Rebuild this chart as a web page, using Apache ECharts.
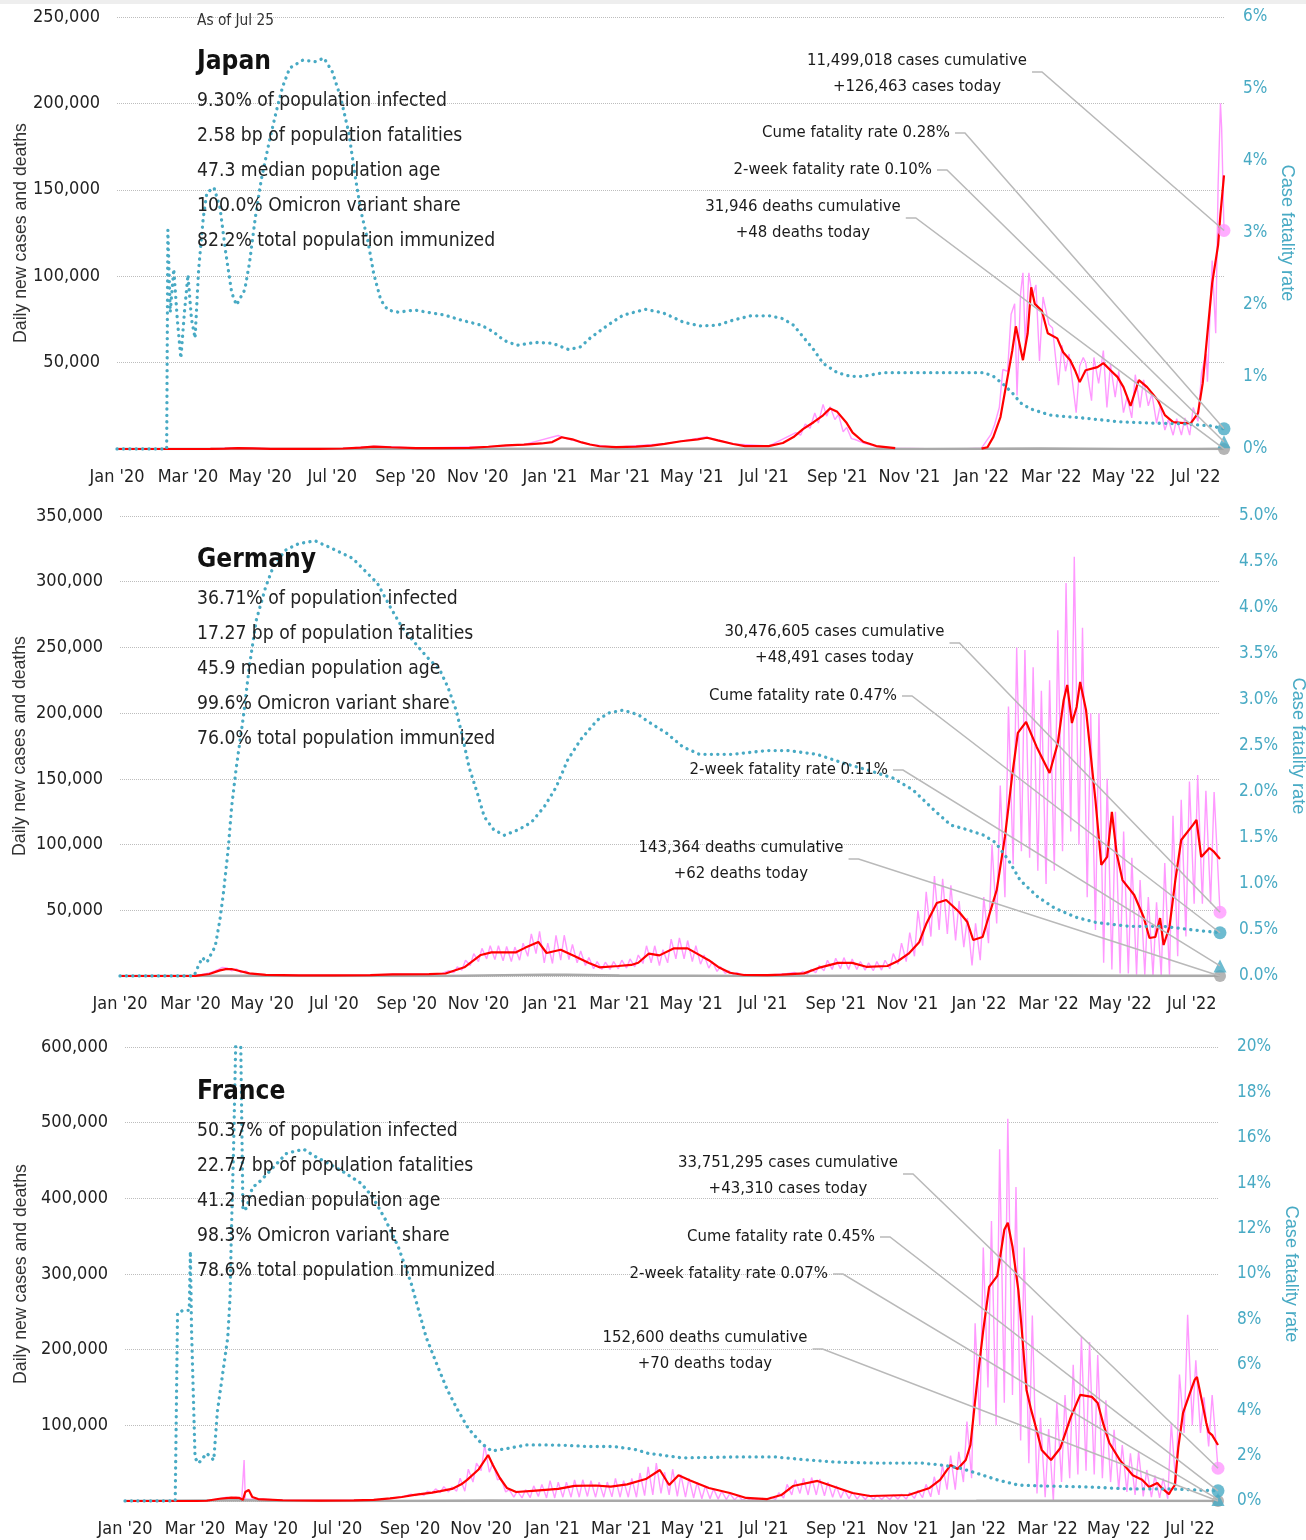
<!DOCTYPE html>
<html><head><meta charset="utf-8">
<script src="https://cdn.jsdelivr.net/npm/echarts@6/dist/echarts.min.js"></script>
<style>html,body{margin:0;padding:0;background:#fff}#c{width:1306px;height:1540px}</style>
</head><body><div id="c"></div><script>
// ---------------- DATA ----------------
const asOfDate = "2022-07-25";
const tickDates = ["2020-01-01","2020-03-01","2020-05-01","2020-07-01","2020-09-01","2020-11-01","2021-01-01","2021-03-01","2021-05-01","2021-07-01","2021-09-01","2021-11-01","2022-01-01","2022-03-01","2022-05-01","2022-07-01"];
const monthNames = ["Jan","Feb","Mar","Apr","May","Jun","Jul","Aug","Sep","Oct","Nov","Dec"];

// Japan
const jpStats = ["9.30% of population infected","2.58 bp of population fatalities","47.3 median population age","100.0% Omicron variant share","82.2% total population immunized"];
const jpTotals = {cumCases:11499018, todayCases:126463, cumDeaths:31946, todayDeaths:48, cumeCfr:0.28, twoWeekCfr:0.10};
const jpLeftTicks = [0, 250000, 50000];
const jpRightTicks = [0, 6, 1];
const jpAvg = [["2020-01-01",0],["2020-02-15",10],["2020-03-20",40],["2020-04-01",250],["2020-04-12",560],["2020-04-25",400],["2020-05-10",120],["2020-05-25",30],["2020-06-20",60],["2020-07-10",300],["2020-07-25",800],["2020-08-05",1350],["2020-08-20",1000],["2020-09-10",550],["2020-10-01",500],["2020-10-25",650],["2020-11-10",1300],["2020-11-25",2100],["2020-12-10",2500],["2020-12-25",3200],["2021-01-03",4000],["2021-01-11",6800],["2021-01-20",5600],["2021-01-28",3800],["2021-02-04",2600],["2021-02-12",1600],["2021-02-26",1100],["2021-03-15",1400],["2021-03-28",2000],["2021-04-08",3000],["2021-04-22",4500],["2021-05-06",5600],["2021-05-14",6500],["2021-05-23",5000],["2021-06-05",2900],["2021-06-15",1700],["2021-07-05",1700],["2021-07-17",3500],["2021-07-26",6900],["2021-08-03",11500],["2021-08-12",15500],["2021-08-20",19500],["2021-08-26",23500],["2021-09-01",21500],["2021-09-09",15000],["2021-09-14",9500],["2021-09-23",4200],["2021-10-04",1700],["2021-10-20",500],["2021-10-21",null],["2022-01-01",200],["2022-01-06",1000],["2022-01-11",7000],["2022-01-17",18500],["2022-01-23",41600],["2022-01-27",57000],["2022-01-30",71000],["2022-02-05",51400],["2022-02-09",67000],["2022-02-12",93600],["2022-02-15",84000],["2022-02-21",80000],["2022-02-26",67000],["2022-03-06",64000],["2022-03-11",56000],["2022-03-17",51400],["2022-03-21",45600],["2022-03-25",38700],["2022-03-30",45600],["2022-04-09",47400],["2022-04-14",49700],["2022-04-20",45600],["2022-04-26",41600],["2022-05-01",35800],["2022-05-07",24900],["2022-05-14",39900],["2022-05-21",35800],["2022-05-30",28300],["2022-06-05",19600],["2022-06-12",15600],["2022-06-21",15000],["2022-06-27",15000],["2022-07-03",20800],["2022-07-07",38100],["2022-07-11",67000],["2022-07-15",96000],["2022-07-20",118000],["2022-07-22",136000],["2022-07-25",158400]];
const jpDaily = [["2020-01-01",0],["2020-03-20",40],["2020-04-11",700],["2020-05-10",120],["2020-07-10",300],["2020-08-07",1600],["2020-09-10",550],["2020-11-10",1300],["2020-12-10",2500],["2021-01-08",7800],["2021-01-15",6000],["2021-02-04",2600],["2021-02-26",1100],["2021-04-08",3000],["2021-05-13",7000],["2021-06-05",2900],["2021-07-05",1700],["2021-07-28",9500],["2021-08-01",8000],["2021-08-05",14500],["2021-08-09",12000],["2021-08-13",20800],["2021-08-16",15000],["2021-08-20",25800],["2021-08-23",19000],["2021-08-26",24500],["2021-08-30",17000],["2021-09-02",20000],["2021-09-06",10000],["2021-09-09",12500],["2021-09-13",6000],["2021-09-16",5500],["2021-09-23",3500],["2021-10-04",1500],["2021-10-20",400],["2021-11-15",150],["2021-12-20",200],["2022-01-01",500],["2022-01-05",4500],["2022-01-09",8500],["2022-01-12",14000],["2022-01-16",24000],["2022-01-19",46000],["2022-01-23",45000],["2022-01-26",78000],["2022-01-29",84000],["2022-01-31",31000],["2022-02-03",90000],["2022-02-05",102000],["2022-02-07",60000],["2022-02-10",102000],["2022-02-13",88000],["2022-02-16",95000],["2022-02-19",51000],["2022-02-22",88000],["2022-02-27",72000],["2022-03-02",70000],["2022-03-07",37000],["2022-03-10",60000],["2022-03-13",45000],["2022-03-16",55000],["2022-03-22",21000],["2022-03-25",48000],["2022-03-28",53000],["2022-03-30",50000],["2022-04-04",28000],["2022-04-06",53000],["2022-04-10",38000],["2022-04-14",57000],["2022-04-17",24000],["2022-04-20",49000],["2022-04-24",30000],["2022-04-27",45000],["2022-05-01",21000],["2022-05-04",30000],["2022-05-08",18000],["2022-05-11",43000],["2022-05-15",24000],["2022-05-18",40000],["2022-05-22",25000],["2022-05-25",32000],["2022-05-29",15000],["2022-06-01",25000],["2022-06-05",11000],["2022-06-08",17000],["2022-06-12",8000],["2022-06-15",17500],["2022-06-19",8000],["2022-06-22",18000],["2022-06-26",8000],["2022-06-29",24000],["2022-07-03",16000],["2022-07-06",44000],["2022-07-08",50000],["2022-07-10",55000],["2022-07-11",39000],["2022-07-15",109000],["2022-07-18",67000],["2022-07-20",152000],["2022-07-22",200000],["2022-07-23",186000],["2022-07-25",126463]];
const jpCfr = [["2020-01-01",0],["2020-02-12",0],["2020-02-13",3.04],["2020-02-15",1.9],["2020-02-18",2.5],["2020-02-21",1.8],["2020-02-24",1.26],["2020-02-27",1.9],["2020-03-01",2.42],["2020-03-04",1.8],["2020-03-07",1.54],["2020-03-10",2.49],["2020-03-14",3.22],["2020-03-17",3.56],["2020-03-23",3.63],["2020-03-28",3.36],["2020-04-02",2.72],["2020-04-07",2.17],["2020-04-11",2.0],["2020-04-18",2.21],["2020-04-22",2.58],["2020-04-27",3.22],["2020-05-02",3.74],["2020-05-09",4.29],["2020-05-15",4.71],["2020-05-20",5.03],["2020-05-26",5.29],["2020-06-06",5.40],["2020-06-17",5.38],["2020-06-24",5.43],["2020-07-01",5.24],["2020-07-08",4.89],["2020-07-15",4.39],["2020-07-20",3.83],["2020-07-25",3.32],["2020-07-31",2.90],["2020-08-05",2.44],["2020-08-11",2.07],["2020-08-17",1.93],["2020-08-26",1.90],["2020-09-09",1.93],["2020-09-19",1.90],["2020-10-04",1.86],["2020-10-18",1.79],["2020-11-04",1.72],["2020-11-14",1.63],["2020-11-23",1.51],["2020-12-04",1.44],["2020-12-20",1.48],["2021-01-03",1.47],["2021-01-17",1.38],["2021-01-27",1.42],["2021-02-04",1.54],["2021-02-19",1.72],["2021-03-04",1.86],["2021-03-23",1.94],["2021-04-07",1.89],["2021-04-24",1.76],["2021-05-08",1.71],["2021-05-23",1.72],["2021-06-05",1.79],["2021-06-20",1.85],["2021-07-06",1.85],["2021-07-17",1.81],["2021-07-26",1.72],["2021-08-03",1.56],["2021-08-12",1.38],["2021-08-20",1.19],["2021-09-01",1.06],["2021-09-12",1.01],["2021-09-23",1.01],["2021-10-10",1.06],["2021-11-08",1.06],["2021-12-06",1.06],["2022-01-03",1.06],["2022-01-11",1.01],["2022-01-20",0.89],["2022-01-27",0.78],["2022-02-03",0.64],["2022-02-11",0.56],["2022-02-28",0.47],["2022-03-28",0.43],["2022-04-26",0.38],["2022-05-24",0.36],["2022-06-21",0.35],["2022-07-14",0.32],["2022-07-25",0.28]];
const jpDeaths = [["2020-01-01",0],["2020-04-25",20],["2020-06-01",5],["2020-08-25",15],["2021-01-25",90],["2021-05-20",100],["2021-08-30",60],["2021-11-15",2],["2022-02-20",250],["2022-05-01",40],["2022-07-01",15],["2022-07-25",48]];

// Germany
const deStats = ["36.71% of population infected","17.27 bp of population fatalities","45.9 median population age","99.6% Omicron variant share","76.0% total population immunized"];
const deTotals = {cumCases:30476605, todayCases:48491, cumDeaths:143364, todayDeaths:62, cumeCfr:0.47, twoWeekCfr:0.11};
const deLeftTicks = [0, 350000, 50000];
const deRightTicks = [0, 5, 0.5];
const deAvg = [["2020-01-01",0],["2020-03-05",50],["2020-03-17",1500],["2020-03-26",4300],["2020-03-31",5200],["2020-04-05",5300],["2020-04-11",4000],["2020-04-20",2000],["2020-05-04",800],["2020-06-01",450],["2020-07-01",450],["2020-08-01",700],["2020-08-20",1300],["2020-09-20",1500],["2020-10-04",1900],["2020-10-20",6600],["2020-11-03",16000],["2020-11-12",18000],["2020-12-03",18000],["2020-12-11",21600],["2020-12-22",25900],["2020-12-29",17500],["2021-01-10",20000],["2021-01-22",15000],["2021-02-03",9900],["2021-02-12",6600],["2021-02-28",7600],["2021-03-11",8400],["2021-03-17",10100],["2021-03-26",17000],["2021-04-04",15700],["2021-04-16",21000],["2021-04-28",21000],["2021-05-06",17000],["2021-05-16",12000],["2021-05-24",6900],["2021-06-03",2500],["2021-06-15",750],["2021-07-05",600],["2021-07-17",1000],["2021-08-05",2000],["2021-08-19",6600],["2021-09-03",10000],["2021-09-15",10000],["2021-09-27",7000],["2021-10-15",7600],["2021-10-24",11400],["2021-11-02",17000],["2021-11-11",25600],["2021-11-17",39500],["2021-11-26",55500],["2021-12-04",57800],["2021-12-15",48700],["2021-12-22",41100],["2021-12-27",27400],["2022-01-04",29700],["2022-01-16",65400],["2022-01-23",105800],["2022-01-29",151400],["2022-02-03",185000],["2022-02-10",193300],["2022-02-19",174300],["2022-03-02",154500],["2022-03-09",177300],["2022-03-14",210000],["2022-03-17",221500],["2022-03-21",192500],["2022-03-25",204700],["2022-03-28",223700],["2022-04-02",202400],["2022-04-10",133900],["2022-04-15",84500],["2022-04-20",90600],["2022-04-24",124800],["2022-04-28",93600],["2022-05-03",73000],["2022-05-13",61600],["2022-05-21",44900],["2022-05-26",28900],["2022-05-31",29700],["2022-06-04",44100],["2022-06-07",23600],["2022-06-12",37300],["2022-06-17",73000],["2022-06-22",103500],["2022-07-02",115000],["2022-07-05",118700],["2022-07-09",90600],["2022-07-16",97400],["2022-07-20",94400],["2022-07-25",89000]];
const deDaily = [["2020-01-01",0],["2020-03-05",100],["2020-03-18",2500],["2020-03-25",5000],["2020-03-28",6500],["2020-04-01",6200],["2020-04-05",4000],["2020-04-09",5500],["2020-04-13",2500],["2020-04-17",3800],["2020-04-21",1500],["2020-05-04",900],["2020-06-01",450],["2020-07-01",450],["2020-08-01",700],["2020-08-20",1300],["2020-09-20",1500],["2020-10-01",2000],["2020-10-07",4000],["2020-10-11",2500],["2020-10-14",7000],["2020-10-18",4500],["2020-10-21",12000],["2020-10-25",8000],["2020-10-28",17000],["2020-11-01",11000],["2020-11-04",21000],["2020-11-08",13000],["2020-11-11",23000],["2020-11-15",12500],["2020-11-18",23000],["2020-11-22",11500],["2020-11-25",22500],["2020-11-29",11000],["2020-12-02",22000],["2020-12-06",12000],["2020-12-09",25000],["2020-12-13",15000],["2020-12-16",32000],["2020-12-20",17000],["2020-12-23",34000],["2020-12-27",10000],["2020-12-30",25000],["2021-01-03",9500],["2021-01-06",31000],["2021-01-10",12000],["2021-01-13",31000],["2021-01-17",12500],["2021-01-20",24000],["2021-01-24",10000],["2021-01-27",19000],["2021-01-31",8000],["2021-02-03",14000],["2021-02-07",5500],["2021-02-10",11000],["2021-02-14",5000],["2021-02-17",10500],["2021-02-21",5000],["2021-02-24",11000],["2021-02-28",5500],["2021-03-03",12000],["2021-03-07",6000],["2021-03-10",13000],["2021-03-14",7000],["2021-03-17",16000],["2021-03-21",9500],["2021-03-24",23000],["2021-03-28",10000],["2021-03-31",23000],["2021-04-04",8000],["2021-04-07",20000],["2021-04-11",10000],["2021-04-14",28000],["2021-04-18",13000],["2021-04-21",29000],["2021-04-25",13000],["2021-04-28",27000],["2021-05-02",11000],["2021-05-05",23000],["2021-05-09",9000],["2021-05-12",16000],["2021-05-16",6000],["2021-05-19",11000],["2021-05-23",3500],["2021-05-26",7000],["2021-05-30",2000],["2021-06-02",4000],["2021-06-06",1200],["2021-06-09",2500],["2021-06-13",600],["2021-06-16",1200],["2021-06-20",400],["2021-07-05",700],["2021-07-21",1800],["2021-07-28",2700],["2021-08-01",1200],["2021-08-04",3500],["2021-08-08",1500],["2021-08-11",5000],["2021-08-15",2500],["2021-08-18",8000],["2021-08-22",4000],["2021-08-25",12000],["2021-08-29",5000],["2021-09-01",13500],["2021-09-05",5500],["2021-09-08",14000],["2021-09-12",5000],["2021-09-15",13000],["2021-09-19",5000],["2021-09-22",11000],["2021-09-26",4500],["2021-09-29",10000],["2021-10-03",4000],["2021-10-06",11000],["2021-10-10",4500],["2021-10-13",12000],["2021-10-17",5500],["2021-10-20",17000],["2021-10-24",9000],["2021-10-27",25000],["2021-10-31",11000],["2021-11-03",33000],["2021-11-07",15000],["2021-11-10",50000],["2021-11-14",23000],["2021-11-17",64000],["2021-11-21",30000],["2021-11-24",76000],["2021-11-28",35000],["2021-12-01",74000],["2021-12-05",32000],["2021-12-08",69000],["2021-12-12",27000],["2021-12-15",57000],["2021-12-19",22000],["2021-12-22",44000],["2021-12-26",8000],["2021-12-29",40000],["2022-01-02",12000],["2022-01-05",60000],["2022-01-09",25000],["2022-01-12",100000],["2022-01-16",40000],["2022-01-19",145000],["2022-01-23",60000],["2022-01-26",205000],["2022-01-30",85000],["2022-02-02",250000],["2022-02-06",95000],["2022-02-09",248000],["2022-02-13",90000],["2022-02-16",235000],["2022-02-20",80000],["2022-02-23",217000],["2022-02-27",70000],["2022-03-02",225000],["2022-03-06",80000],["2022-03-09",263000],["2022-03-13",95000],["2022-03-16",299000],["2022-03-20",110000],["2022-03-23",319000],["2022-03-27",100000],["2022-03-30",265000],["2022-04-03",60000],["2022-04-06",200000],["2022-04-10",35000],["2022-04-13",200000],["2022-04-17",10000],["2022-04-20",150000],["2022-04-24",5000],["2022-04-27",125000],["2022-05-01",2000],["2022-05-04",110000],["2022-05-08",2000],["2022-05-11",90000],["2022-05-15",1000],["2022-05-18",73000],["2022-05-22",1000],["2022-05-25",60000],["2022-05-29",0],["2022-06-01",56000],["2022-06-05",0],["2022-06-08",86000],["2022-06-12",1000],["2022-06-15",122000],["2022-06-19",15000],["2022-06-22",134000],["2022-06-26",30000],["2022-06-29",148000],["2022-07-03",55000],["2022-07-06",153000],["2022-07-10",55000],["2022-07-13",141000],["2022-07-17",55000],["2022-07-20",140000],["2022-07-25",48491]];
const deCfr = [["2020-01-01",0],["2020-03-04",0],["2020-03-07",0.09],["2020-03-11",0.20],["2020-03-15",0.15],["2020-03-19",0.25],["2020-03-22",0.32],["2020-03-26",0.61],["2020-03-29",0.90],["2020-04-02",1.37],["2020-04-05",1.84],["2020-04-09",2.27],["2020-04-15",2.82],["2020-04-20",3.36],["2020-04-26",3.87],["2020-05-04",4.23],["2020-05-11",4.47],["2020-05-21",4.63],["2020-06-01",4.70],["2020-06-15",4.73],["2020-06-29",4.65],["2020-07-17",4.54],["2020-07-27",4.41],["2020-08-07",4.27],["2020-08-18",4.01],["2020-08-28",3.79],["2020-09-08",3.62],["2020-09-18",3.47],["2020-09-29",3.33],["2020-10-06",3.14],["2020-10-13",2.89],["2020-10-19",2.57],["2020-10-24",2.27],["2020-10-31",1.99],["2020-11-06",1.73],["2020-11-14",1.59],["2020-11-23",1.53],["2020-12-05",1.59],["2020-12-16",1.67],["2020-12-27",1.84],["2021-01-06",2.05],["2021-01-16",2.35],["2021-01-27",2.57],["2021-02-10",2.78],["2021-02-20",2.86],["2021-03-04",2.89],["2021-03-17",2.84],["2021-03-26",2.76],["2021-04-10",2.64],["2021-04-24",2.49],["2021-05-08",2.41],["2021-06-06",2.41],["2021-07-04",2.45],["2021-07-22",2.45],["2021-08-16",2.41],["2021-09-06",2.32],["2021-09-28",2.24],["2021-10-20",2.15],["2021-11-06",2.02],["2021-11-24",1.80],["2021-12-08",1.64],["2021-12-22",1.59],["2022-01-05",1.53],["2022-01-15",1.45],["2022-01-26",1.26],["2022-02-05",1.04],["2022-02-20",0.86],["2022-03-06",0.74],["2022-03-24",0.64],["2022-04-11",0.58],["2022-05-09",0.54],["2022-06-07",0.54],["2022-07-02",0.50],["2022-07-25",0.47]];
const deDeaths = [["2020-01-01",0],["2020-04-15",230],["2020-06-01",30],["2020-10-01",10],["2020-12-28",900],["2021-01-15",850],["2021-03-01",300],["2021-05-01",200],["2021-07-01",30],["2021-12-01",350],["2022-03-20",250],["2022-06-01",80],["2022-07-25",62]];

// France
const frStats = ["50.37% of population infected","22.77 bp of population fatalities","41.2 median population age","98.3% Omicron variant share","78.6% total population immunized"];
const frTotals = {cumCases:33751295, todayCases:43310, cumDeaths:152600, todayDeaths:70, cumeCfr:0.45, twoWeekCfr:0.07};
const frLeftTicks = [0, 600000, 100000];
const frRightTicks = [0, 20, 2];
const frAvg = [["2020-01-01",0],["2020-02-25",0],["2020-03-11",300],["2020-03-22",3000],["2020-04-01",4500],["2020-04-08",4000],["2020-04-11",1500],["2020-04-13",11900],["2020-04-16",14500],["2020-04-19",5300],["2020-04-24",2600],["2020-05-15",1000],["2020-06-15",600],["2020-07-15",800],["2020-08-01",1500],["2020-08-15",3500],["2020-08-25",5300],["2020-09-05",8000],["2020-09-20",11000],["2020-09-27",13000],["2020-10-07",16000],["2020-10-15",22000],["2020-10-20",28000],["2020-10-30",42000],["2020-11-07",60800],["2020-11-11",47600],["2020-11-17",30400],["2020-11-23",17200],["2020-12-01",11900],["2020-12-15",13500],["2021-01-06",16000],["2021-01-20",20000],["2021-02-07",20500],["2021-02-20",19000],["2021-03-06",22000],["2021-03-22",29000],["2021-04-03",41000],["2021-04-11",21200],["2021-04-19",34000],["2021-04-29",27000],["2021-05-15",17200],["2021-06-02",10600],["2021-06-16",4000],["2021-07-04",2600],["2021-07-16",7900],["2021-07-26",19800],["2021-08-16",26500],["2021-08-31",18500],["2021-09-15",10600],["2021-09-30",6600],["2021-11-02",7900],["2021-11-20",17200],["2021-11-29",27800],["2021-12-08",47600],["2021-12-14",42300],["2021-12-21",54200],["2021-12-25",74000],["2021-12-30",146800],["2022-01-05",226000],["2022-01-10",283000],["2022-01-17",297600],["2022-01-23",358500],["2022-01-26",367700],["2022-01-30",336000],["2022-02-04",279000],["2022-02-07",226000],["2022-02-11",146800],["2022-02-15",120400],["2022-02-19",97900],["2022-02-24",67500],["2022-03-04",54200],["2022-03-12",70100],["2022-03-21",111100],["2022-03-29",140200],["2022-04-08",137600],["2022-04-13",129600],["2022-04-18",100500],["2022-04-23",76700],["2022-05-02",54000],["2022-05-13",34000],["2022-05-21",28000],["2022-05-27",18500],["2022-06-03",23800],["2022-06-07",17000],["2022-06-13",9000],["2022-06-15",14500],["2022-06-18",21000],["2022-06-21",71000],["2022-06-25",116000],["2022-07-01",143000],["2022-07-05",160000],["2022-07-07",164000],["2022-07-11",134000],["2022-07-15",103000],["2022-07-17",91000],["2022-07-20",87000],["2022-07-25",74000]];
const frDaily = [["2020-01-01",0],["2020-02-25",0],["2020-03-11",300],["2020-03-22",3000],["2020-03-28",5000],["2020-04-01",3500],["2020-04-05",5000],["2020-04-10",3000],["2020-04-11",1500],["2020-04-12",54000],["2020-04-13",3000],["2020-04-17",2500],["2020-04-24",2600],["2020-05-15",1000],["2020-06-15",600],["2020-07-15",800],["2020-08-01",1500],["2020-08-15",3500],["2020-08-27",6000],["2020-09-02",9000],["2020-09-06",7000],["2020-09-09",10000],["2020-09-13",7500],["2020-09-16",13000],["2020-09-20",10500],["2020-09-23",16000],["2020-09-27",11000],["2020-09-30",19000],["2020-10-04",12000],["2020-10-07",18500],["2020-10-11",13000],["2020-10-14",30000],["2020-10-18",13000],["2020-10-21",42000],["2020-10-25",25000],["2020-10-28",50000],["2020-11-01",40000],["2020-11-04",74000],["2020-11-08",38000],["2020-11-11",50000],["2020-11-15",28000],["2020-11-18",30000],["2020-11-22",12000],["2020-11-25",15000],["2020-11-29",5000],["2020-12-02",13000],["2020-12-06",4000],["2020-12-09",15000],["2020-12-13",4500],["2020-12-16",20000],["2020-12-20",6000],["2020-12-23",22000],["2020-12-27",4000],["2020-12-30",27000],["2021-01-03",4000],["2021-01-06",25000],["2021-01-10",5000],["2021-01-13",25000],["2021-01-17",5000],["2021-01-20",28000],["2021-01-24",5000],["2021-01-27",28000],["2021-01-31",6000],["2021-02-03",27000],["2021-02-07",5000],["2021-02-10",25000],["2021-02-14",5000],["2021-02-17",25000],["2021-02-21",5500],["2021-02-24",30000],["2021-02-28",5000],["2021-03-03",27000],["2021-03-07",5000],["2021-03-10",30000],["2021-03-14",5000],["2021-03-17",37000],["2021-03-21",7000],["2021-03-24",45000],["2021-03-28",8000],["2021-03-31",50000],["2021-04-04",10000],["2021-04-07",38000],["2021-04-11",8000],["2021-04-14",42000],["2021-04-18",6000],["2021-04-21",35000],["2021-04-25",5000],["2021-04-28",30000],["2021-05-02",4000],["2021-05-05",25000],["2021-05-09",3000],["2021-05-12",20000],["2021-05-16",3000],["2021-05-19",16000],["2021-05-23",2500],["2021-05-26",13000],["2021-05-30",2000],["2021-06-02",10000],["2021-06-06",1500],["2021-06-09",6500],["2021-06-13",1000],["2021-06-16",4000],["2021-06-20",800],["2021-06-23",3000],["2021-06-27",800],["2021-06-30",3500],["2021-07-04",900],["2021-07-07",5000],["2021-07-11",2000],["2021-07-14",11000],["2021-07-18",4000],["2021-07-21",22000],["2021-07-25",8000],["2021-07-28",28000],["2021-08-01",10000],["2021-08-04",30000],["2021-08-08",8000],["2021-08-11",31000],["2021-08-15",8000],["2021-08-18",29000],["2021-08-22",7000],["2021-08-25",25000],["2021-08-29",5000],["2021-09-01",20000],["2021-09-05",4000],["2021-09-08",15000],["2021-09-12",3000],["2021-09-15",12000],["2021-09-19",2500],["2021-09-22",9000],["2021-09-26",2000],["2021-09-29",8000],["2021-10-03",2000],["2021-10-06",7500],["2021-10-10",2000],["2021-10-13",7000],["2021-10-17",2000],["2021-10-20",8000],["2021-10-24",2500],["2021-10-27",9000],["2021-10-31",2500],["2021-11-03",11000],["2021-11-07",3500],["2021-11-10",14000],["2021-11-14",4500],["2021-11-17",22000],["2021-11-21",5500],["2021-11-24",32000],["2021-11-28",8000],["2021-12-01",48000],["2021-12-05",15000],["2021-12-08",60000],["2021-12-12",15000],["2021-12-15",65000],["2021-12-19",25000],["2021-12-22",105000],["2021-12-26",30000],["2021-12-29",235000],["2022-01-02",100000],["2022-01-05",335000],["2022-01-09",150000],["2022-01-12",370000],["2022-01-16",100000],["2022-01-19",465000],["2022-01-23",130000],["2022-01-26",505000],["2022-01-30",140000],["2022-02-02",415000],["2022-02-06",80000],["2022-02-09",335000],["2022-02-13",50000],["2022-02-16",245000],["2022-02-20",10000],["2022-02-23",110000],["2022-02-27",5000],["2022-03-02",95000],["2022-03-06",0],["2022-03-09",130000],["2022-03-13",25000],["2022-03-16",140000],["2022-03-20",30000],["2022-03-23",180000],["2022-03-27",35000],["2022-03-30",217000],["2022-04-03",40000],["2022-04-06",210000],["2022-04-10",35000],["2022-04-13",193000],["2022-04-17",30000],["2022-04-20",133000],["2022-04-24",25000],["2022-04-27",94000],["2022-05-01",15000],["2022-05-04",74000],["2022-05-08",12000],["2022-05-11",63000],["2022-05-15",8000],["2022-05-18",65000],["2022-05-22",6000],["2022-05-25",41000],["2022-05-29",5000],["2022-06-01",34000],["2022-06-05",4000],["2022-06-08",30000],["2022-06-12",3000],["2022-06-15",103000],["2022-06-19",20000],["2022-06-22",167000],["2022-06-26",90000],["2022-06-29",246000],["2022-07-03",100000],["2022-07-06",186000],["2022-07-10",90000],["2022-07-13",137000],["2022-07-17",72000],["2022-07-20",140000],["2022-07-25",43310]];
const frCfr = [["2020-01-01",0],["2020-02-13",0],["2020-02-15",8.3],["2020-02-20",8.4],["2020-02-25",8.4],["2020-02-26",11.0],["2020-02-27",7.5],["2020-03-01",1.9],["2020-03-04",1.66],["2020-03-11",2.1],["2020-03-17",1.8],["2020-03-20",3.9],["2020-03-26",6.1],["2020-03-29",7.2],["2020-03-31",9.0],["2020-04-01",11.6],["2020-04-03",15.6],["2020-04-05",20.6],["2020-04-09",20.6],["2020-04-11",12.8],["2020-04-14",12.9],["2020-04-19",13.8],["2020-04-26",14.1],["2020-05-07",14.7],["2020-05-18",15.3],["2020-05-25",15.4],["2020-06-02",15.5],["2020-06-11",15.2],["2020-06-22",14.9],["2020-07-06",14.5],["2020-07-21",14.0],["2020-07-31",13.4],["2020-08-11",12.4],["2020-08-22",11.2],["2020-09-02",9.6],["2020-09-09",8.3],["2020-09-15",7.2],["2020-09-25",5.9],["2020-10-03",4.9],["2020-10-12",4.0],["2020-10-21",3.2],["2020-11-01",2.55],["2020-11-10",2.2],["2020-11-22",2.3],["2020-12-10",2.47],["2020-12-28",2.47],["2021-01-14",2.45],["2021-02-01",2.4],["2021-02-22",2.4],["2021-03-12",2.28],["2021-03-24",2.1],["2021-04-22",1.9],["2021-06-05",1.94],["2021-07-11",1.94],["2021-08-01",1.84],["2021-09-02",1.71],["2021-10-08",1.67],["2021-11-13",1.67],["2021-12-01",1.58],["2021-12-16",1.45],["2021-12-30",1.23],["2022-01-17",0.93],["2022-02-04",0.70],["2022-02-28",0.66],["2022-04-05",0.62],["2022-05-11",0.53],["2022-06-16",0.53],["2022-07-25",0.45]];
const frDeaths = [["2020-01-01",0],["2020-04-10",1000],["2020-05-15",100],["2020-08-15",20],["2020-11-10",550],["2021-01-20",380],["2021-04-15",330],["2021-07-10",30],["2021-12-30",180],["2022-02-05",250],["2022-05-01",100],["2022-07-25",70]];

// ---------------- LAYOUT / STYLE ----------------
const PINK = '#ff99ff', RED = '#ff0000', CYAN = '#48aac4', GRAY = '#a9a9a9', LEAD = '#b9b9b9';
const TEXT_X = 197;
const layouts = [
  {name:'Japan', stats:jpStats, tot:jpTotals, lt:jpLeftTicks, rt:jpRightTicks, rDec:0, avg:jpAvg, daily:jpDaily, cfr:jpCfr, deaths:jpDeaths,
   grid:{left:117, top:17, width:1107, height:432}, gapL:87, gapR:51, titleY:62, statY:101, showAsOf:true,
   ann:[{x:917,y:61,align:'center'},{x:950,y:133,align:'right'},{x:932,y:170,align:'right'},{x:803,y:207,align:'center'}]},
  {name:'Germany', stats:deStats, tot:deTotals, lt:deLeftTicks, rt:deRightTicks, rDec:1, avg:deAvg, daily:deDaily, cfr:deCfr, deaths:deDeaths,
   grid:{left:120, top:516, width:1100, height:460}, gapL:91, gapR:65, titleY:560, statY:599,
   ann:[{x:834.5,y:632,align:'center'},{x:897,y:696,align:'right'},{x:888,y:770,align:'right'},{x:741,y:848,align:'center'}]},
  {name:'France', stats:frStats, tot:frTotals, lt:frLeftTicks, rt:frRightTicks, rDec:0, avg:frAvg, daily:frDaily, cfr:frCfr, deaths:frDeaths,
   grid:{left:125, top:1047, width:1093, height:454}, gapL:95, gapR:61, titleY:1092, statY:1131,
   ann:[{x:788,y:1163,align:'center'},{x:875,y:1237,align:'right'},{x:828,y:1274,align:'right'},{x:705,y:1338,align:'center'}]}
];

// ---------------- FONTS ----------------
const cv = document.createElement('canvas').getContext('2d');
const probe = 'abcdefghijklmnopqrstuvwxyz0123456789,.%';
function has(f){ cv.font='40px monospace'; const a=cv.measureText(probe).width; cv.font='40px "'+f+'", monospace'; return cv.measureText(probe).width!==a; }
const narrowFam = ['DejaVu Sans Condensed','Liberation Sans Narrow','Roboto Condensed','Roboto'].find(has) || 'sans-serif';
const regFam = ['Liberation Sans','Arimo','Roboto'].find(has) || 'sans-serif';
const NF = '"'+narrowFam+'", sans-serif', RF = '"'+regFam+'", sans-serif';
function width(t, fam, w, size){ cv.font=(w||'normal')+' '+size+'px '+fam; return cv.measureText(t).width; }
function fit(t, fam, w, target){ return +(target/width(t,fam,w,100)*100).toFixed(2); }
const S = {
  stat: fit('9.30% of population infected', NF, 'normal', 250),
  ann: fit('Cume fatality rate 0.28%', NF, 'normal', 188),
  yTick: fit('250,000', NF, 'normal', 67),
  xTick: fit("Jan '20", NF, 'normal', 55),
  rTick: fit('5.0%', NF, 'normal', 39),
  asOf: fit('As of Jul 25', NF, 'normal', 77),
  title: fit('Japan', NF, 'bold', 74),
  yName: fit('Daily new cases and deaths', RF, 'normal', 220),
  rName: fit('Case fatality rate', RF, 'normal', 137)
};

// ---------------- HELPERS ----------------
const DAY0 = Date.UTC(2020,0,1);
const day = s => { const p=s.split('-'); return Math.round((Date.UTC(+p[0],+p[1]-1,+p[2])-DAY0)/864e5); };
const END = day(asOfDate);
const pts = a => a.map(([d,v]) => [day(d), v]);
const tickDays = tickDates.map(day);
const fmt = n => n.toLocaleString('en-US');
const xLabel = v => { const d=new Date(DAY0+v*864e5); return monthNames[d.getUTCMonth()]+" '"+String(d.getUTCFullYear()).slice(2); };
const asOfLabel = (()=>{ const d=new Date(DAY0+END*864e5); return 'As of '+monthNames[d.getUTCMonth()]+' '+d.getUTCDate(); })();

// ---------------- OPTION ----------------
const grids=[], xAxes=[], yAxes=[], series=[];
layouts.forEach((p,i)=>{
  grids.push(Object.assign({outerBoundsMode:'none', containLabel:false}, p.grid));
  xAxes.push({type:'value', gridIndex:i, min:0, max:END, axisLine:{show:false}, axisTick:{show:false}, splitLine:{show:false},
    axisLabel:{customValues:tickDays, formatter:xLabel, color:'#222', fontFamily:NF, fontSize:S.xTick, margin:19}});
  yAxes.push({type:'value', gridIndex:i, position:'left', min:p.lt[0], max:p.lt[1], interval:p.lt[2],
    name:'Daily new cases and deaths', nameLocation:'middle', nameRotate:90, nameGap:p.gapL, nameMoveOverlap:false,
    nameTextStyle:{fontFamily:RF, fontSize:S.yName, color:'#333'},
    axisLine:{show:false}, axisTick:{show:false},
    axisLabel:{showMinLabel:false, formatter:v=>fmt(v), color:'#222', fontFamily:NF, fontSize:S.yTick, margin:17},
    splitLine:{show:true, lineStyle:{color:'#bdbdbd', type:'dotted', width:1}}});
  yAxes.push({type:'value', gridIndex:i, position:'right', min:p.rt[0], max:p.rt[1], interval:p.rt[2],
    name:'Case fatality rate', nameLocation:'middle', nameRotate:-90, nameGap:p.gapR,
    nameTextStyle:{fontFamily:RF, fontSize:S.rName, color:CYAN},
    axisLine:{show:false}, axisTick:{show:false}, splitLine:{show:false},
    axisLabel:{formatter:v=>v.toFixed(p.rDec)+'%', color:CYAN, fontFamily:NF, fontSize:S.rTick, margin:19}});
  const yl=2*i, yr=2*i+1, base={xAxisIndex:i, showSymbol:false, symbol:'none', silent:true, animation:false};
  series.push(Object.assign({type:'line', yAxisIndex:yl, data:pts(p.daily), lineStyle:{color:PINK, width:1.4}, z:1}, base));
  series.push(Object.assign({type:'line', yAxisIndex:yl, data:pts(p.deaths), lineStyle:{color:GRAY, width:2.6}, z:2}, base));
  series.push(Object.assign({type:'line', yAxisIndex:yl, data:pts(p.avg), connectNulls:false, lineStyle:{color:RED, width:2.2}, z:3}, base));
  series.push(Object.assign({type:'line', yAxisIndex:yr, data:pts(p.cfr), clip:true, lineStyle:{color:CYAN, width:3.3, type:[0.1,6.3], cap:'round'}, z:4}, base));
  const sc = {type:'scatter', xAxisIndex:i, silent:true, animation:false, clip:false, z:6};
  series.push(Object.assign({}, sc, {yAxisIndex:yl, data:[[END,p.tot.todayDeaths]], symbolSize:12, itemStyle:{color:'#a3a3a3'}}));
  series.push(Object.assign({}, sc, {yAxisIndex:yl, data:[[END,p.tot.todayCases]], symbolSize:13, itemStyle:{color:PINK}}));
  series.push(Object.assign({}, sc, {yAxisIndex:yr, data:[[END,p.tot.cumeCfr]], symbolSize:13, itemStyle:{color:CYAN}, z:7}));
  series.push(Object.assign({}, sc, {yAxisIndex:yr, data:[[END,p.tot.twoWeekCfr]], symbol:'triangle', symbolSize:13, itemStyle:{color:CYAN}, z:7}));
});

const chart = echarts.init(document.getElementById('c'), null, {renderer:'canvas', width:1306, height:1540});
chart.setOption({animation:false, backgroundColor:'#fff', grid:grids, xAxis:xAxes, yAxis:yAxes, series:series});

// ---------------- TEXTS & LEADER LINES ----------------
const els = [{type:'rect', shape:{x:0,y:0,width:1306,height:4}, style:{fill:'#eeeeee'}, z:0}];
function txt(t, x, y, size, fam, opts){ opts=opts||{};
  els.push({type:'text', x:x, y:y, z:50, style:{text:t, font:(opts.weight||'normal')+' '+size+'px '+fam, fill:opts.fill||'#222',
    textAlign:opts.align||'left', align:opts.align||'left', textVerticalAlign:'middle', verticalAlign:'middle'}}); }
layouts.forEach((p,i)=>{
  if (p.showAsOf) txt(asOfLabel, TEXT_X, 21, S.asOf, NF, {fill:'#333'});
  txt(p.name, TEXT_X, p.titleY, S.title, NF, {weight:'bold', fill:'#111'});
  p.stats.forEach((s,k)=> txt(s, TEXT_X, p.statY + 35*k, S.stat, NF, {fill:'#222'}));
  const t = p.tot;
  const blocks = [
    {lines:[fmt(t.cumCases)+' cases cumulative', '+'+fmt(t.todayCases)+' cases today'], target:[END,t.todayCases], ax:2*i},
    {lines:['Cume fatality rate '+t.cumeCfr.toFixed(2)+'%'], target:[END,t.cumeCfr], ax:2*i+1},
    {lines:['2-week fatality rate '+t.twoWeekCfr.toFixed(2)+'%'], target:[END,t.twoWeekCfr], ax:2*i+1},
    {lines:[fmt(t.cumDeaths)+' deaths cumulative', '+'+t.todayDeaths+' deaths today'], target:[END,t.todayDeaths], ax:2*i}
  ];
  blocks.forEach((b,k)=>{
    const a = p.ann[k];
    b.lines.forEach((ln,j)=> txt(ln, a.x, a.y + 26*j, S.ann, NF, {align:a.align, fill:'#1a1a1a'}));
    const w = width(b.lines[0], NF, 'normal', S.ann);
    const xe = a.align==='center' ? a.x + w/2 : a.x;
    const ly = b.lines.length>1 ? a.y + 11 : a.y;
    const end = chart.convertToPixel({xAxisIndex:i, yAxisIndex:b.ax}, b.target);
    els.push({type:'polyline', z:40, shape:{points:[[xe+5,ly],[xe+15,ly],end]}, style:{stroke:LEAD, lineWidth:1.5, fill:null}});
  });
});
chart.setOption({graphic:{elements:els}});
</script></body></html>
